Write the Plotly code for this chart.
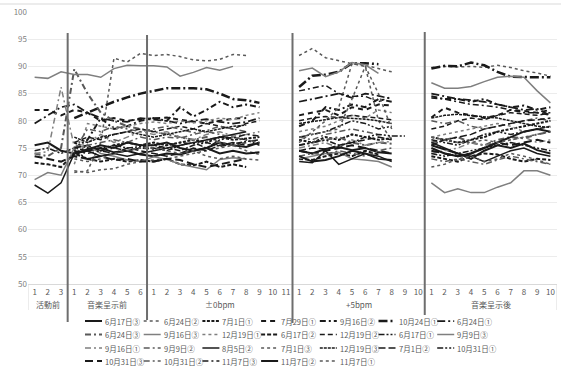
import plotly.graph_objects as go

# ---------------- data ----------------
group_names = ["活動前", "音楽呈示前", "±0bpm", "+5bpm", "音楽呈示後"]
group_sizes = [3, 6, 11, 10, 10]
tick_labels = [str(k) for n in group_sizes for k in range(1, n + 1)]

N = None
series_names = [
    "6月17日③", "6月24日②", "7月1日①", "7月29日①", "9月16日②", "10月24日①", "6月24日①",
    "6月24日③", "9月16日③", "12月19日①", "6月17日②", "12月19日②", "6月17日①", "9月9日③",
    "9月16日①", "9月9日②", "8月5日②", "7月1日③", "12月19日③", "7月1日②", "10月31日①",
    "10月31日③", "10月31日②", "11月7日③", "11月7日②", "11月7日①",
]

s01 = [75.5, 76, 74.5, 74, 74.5, 75, 74.2, 74.5, 73.8, 73.5, 74, 73.8, 74.5, 75, 76, 75.5, 75.2, 76, N, N,
       74.5, 74, 74.8, 75.2, 74.6, 75, 74.2, 74, N, N, 75.5, 74.8, 74, 73, 74.5, 75.5, 75, 75.8, 74.6, 74]
s02 = [N, N, N, 70.5, 70.8, 76, 91.5, 90.8, 92.4, 92, 92.2, 91.8, 91.2, 91, 91.3, 92.2, 92, N, N, N,
       92, 93.3, 91.6, 91, 90.5, 90.2, 89.6, 89, N, N, 89.8, 90, 89.9, 90, 89.8, 90.2, 89.8, 89.2, 88.8, 88.2]
s03 = [N, N, N, 76, 75, 74.5, 75.5, 76, 75.5, 76, 75.5, 76, 76.5, 76, 77, 76.5, 76.8, 77, N, N,
       76.5, 76, 77, 76.5, 77.5, 77, 76.5, 76.8, N, N, 77, 76.5, 76, 76.5, 77, 78, 78.5, 79, 79.5, 80]
s04 = [82, 82, 81, 82, 81.5, 80, 80.5, 80, 80.3, 80.5, 80.6, 80.2, 79.8, 79.5, 80, 80.4, 80.5, N, N, N,
       81, 81.5, 82, 81, 82.5, 82, 83, 82.8, N, N, 80.6, 82.4, 81.5, 81, 80.5, 81, 82, 81.8, 81.5, 82]
s05 = [N, N, N, 75, 76.5, 80.5, 78.5, 79, 80, 80.5, 80, 82.5, 80.8, 82, 83.5, 82.5, 83, 82.5, N, N,
       79, 80, 82.5, 82, 83, 82.5, 84, 83.5, N, N, 84.5, 84, 84, 83.5, 84, 83, 82.5, 82.8, 82, 82.5]
s06 = [N, N, N, 80.5, 81.5, 82.5, 83.5, 84.3, 85, 85.5, 86, 86, 86, 85.8, 85, 84, 83.8, 83.3, N, N,
       86.2, 88.3, 88.5, 89, 90.6, 90.6, 90.4, N, N, N, 89.6, 90.1, 90, 90.7, 90.2, 89, 88.1, 88, 88, 88]
s07 = [79.5, 81, 82.5, 83, 81.5, 80.5, 80, 79.8, 80.5, 80.2, 80, 79.5, 80, 80.3, 79.8, 79.5, 79.8, 80.5, N, N,
       83.5, 84, 84.5, 85, 84.2, 85, 84.6, 84, N, N, 85, 84.5, 84, 83.8, 83.5, 83, 82.5, 82, 82.2, 81]
s08 = [74, 73.5, 75, 89.5, 85, 81.5, 80, 79, 78.5, 78, 77.5, 77, 76.5, 77, 76, 75.5, 76, N, N, N,
       75.5, 76, 76.5, 77, 76, 75.5, 76, 75.8, N, N, 76, 76.5, 77, 76, 75.5, 76.5, 77, 76.8, 77.5, 78]
s09 = [88, 87.8, 89, 88.5, 88.5, 88, 89.6, 90.2, 90.1, 90.1, 89.9, 88.2, 88.9, 89.8, 89.3, 90, N, N, N, N,
       89.2, 89.7, 88.1, 89, 90.7, 90.3, 88.7, N, N, N, 87, 86, 86, 86.3, 87.2, 88, 88.2, 88, 85.5, 83.3]
s10 = [N, N, N, 72, 79.5, 79, 78.5, 79, 79.5, 79.8, 79.5, 80, 79.6, 80, 80.5, 80.2, 81, 81.5, N, N,
       78, 78.5, 79, 80, 81, 80.5, 82, 81.5, N, N, 77, 77.5, 78, 78.5, 79, 79.5, 79, 78, 78.5, 79]
s11 = [72.3, 72, 71.5, 74, 73, 72.5, 73, 72.5, 72.8, 72.5, 73, 72, 71.8, 72.5, 71.5, 72, 71.5, N, N, N,
       73, 72.8, 73.5, 74, 73.5, 74.5, 73.8, N, N, N, 73.5, 73, 72.5, 73.5, 74, 73.8, 73, 72.5, 73, 72.8]
s12 = [N, N, N, 76, 77, 76.5, 77.5, 78, 78.5, 78, 78.5, 79, 78.5, 79.5, 79, 78.5, 79.5, 80, N, N,
       80, 80.5, 80.8, 80.6, 81, 80.8, 80.5, 80.2, N, N, 78.5, 79, 80, 80.5, 80.2, 81, 81.5, 81.2, 81, 81.5]
s13 = [74.5, 75, 74, 75, 74.5, 75, 75.5, 75, 75.2, 75.5, 75, 74.5, 75.5, 76, 75.3, 75.8, 76.2, 76.5, N, N,
       77, 77.5, 78, 79, 80, 79.5, 78.5, 79, N, N, 76.5, 76, 75.5, 76.5, 77.5, 78, 77.5, 78, 78.5, 79]
s14 = [69.2, 70.5, 70, 75, 75.5, 74, 73.5, 72.8, 72.5, 73.4, 72.9, 72, 71.5, 71, 72.9, 73.2, 73, N, N, N,
       73, 73.5, 74, 74.2, 73, 72.8, 72.5, 71.5, N, N, 68.6, 66.8, 67.5, 66.8, 66.8, 67.8, 68.6, 70.8, 70.8, 70]
s15 = [74, 74.3, 86.2, 75.2, 76, 77.5, 76, 77, 78, 77.5, 78, 77, 76.5, 77.5, 78, 77.2, 77.5, 78, N, N,
       75, 75.5, 76, 75, 76.5, 75.5, 76, 76.2, N, N, 74, 74.5, 75, 76, 75.5, 76, 76.5, 77, 76, 76.5]
s16 = [N, N, N, 74.5, 78.5, 78, 79, 78.5, 78, 78.5, 79, 78.5, 77.8, 78.2, 79, 78.5, 78, N, N, N,
       77, 76.5, 77.5, 78, 78.5, 78, 77.5, N, N, N, 80, 79.5, 80, 79, 78.5, 79, 79.5, 80, 80.5, 80]
s17 = [68.2, 66.7, 68.6, 74, 74.5, 73.5, 74, 73.5, 74, 74.5, 75, 75.5, 76, 76.5, 77, 77.5, 78, N, N, N,
       72.5, 72.3, 74.5, 72, 73, 74, 73.5, 72.5, N, N, 76, 75, 74, 73.5, 72.5, 73.5, 74.5, 75, 74, 73.5]
s18 = [N, N, N, 70.8, 70.5, 71, 71.2, 72, 72.5, 72.8, 73, 73.5, 74, 74.5, 75, 75.5, 74.5, 73.8, N, N,
       76, 78, 80, 82.5, 90.5, 90, 80, 76.5, N, N, 71.5, 72, 73, 73.5, 72.5, 73, 74, 73.5, 72.8, 72]
s19 = [N, N, N, 77, 76, 77, 77.5, 78, 77.5, 77, 77.5, 78, 78.5, 78, 78.5, 79, 79.2, N, N, N,
       79.5, 79.8, 80.2, 80.6, 80.5, 80.3, 80, 79.5, N, N, 80.5, 81, 81.2, 81, 80.8, 80.5, 80, 79.5, 79, 78.8]
s20 = [N, N, N, 75, 75.5, 74.5, 74, 75, 74.5, 74, 73.5, 74, 75, 74.5, 75.5, 76, 75.5, 76, N, N,
       74.5, 75, 74.8, 75.5, 76, 76.5, 77, 76.5, N, N, 75.5, 76.5, 77, 77.5, 78.5, 79, 79.5, 80, 80.2, 80.5]
s21 = [N, N, N, 74.5, 73, 73.5, 74, 74.5, 75, 75, 74.5, 75.5, 76, 75, 76.5, 77, 76.5, 75.5, N, N,
       75.5, 76, 76.5, 75.5, 76, 77, 77.5, 77.2, 77.2, N, 74, 73.5, 74, 74.5, 75, 75.5, 76, 75.5, 75, 74.5]
s22 = [73.5, 73, 72.5, 73.5, 73, 73.5, 72.8, 73, 72.5, 72.5, 73, 72.8, 72, 71.5, 72, 72.5, 73, N, N, N,
       74.5, 74, 74.5, 75, 75.5, 75, 74.5, 74, N, N, 74.5, 74, 73.5, 74, 75, 76, 75.5, 76, 76.5, 76]
s23 = [N, N, N, 74, 75.5, 76, 76.5, 76, 77, 76.5, 77, 76.8, 77.5, 78, 77.5, 77, 76.5, 76, N, N,
       73.5, 74, 73.8, 74.5, 74, 73.5, 74.5, 75, N, N, 73, 72.5, 73, 72.5, 72, 72.8, 73.5, 73, 72.5, 72]
s24 = [N, N, N, 74.5, 74, 74.5, 75, 74.5, 75, 74.8, 75.5, 76, 75.8, 76.5, 77, 76.8, 77.5, 77.2, N, N,
       85.5, 86, 86.5, 85, 84.5, 84.5, 83.5, 84.5, N, N, 84.2, 84, 83.5, 83, 82.8, 82.5, 82, 81.5, 81.5, 81]
s25 = [N, N, N, 74, 74.8, 75.5, 75, 76, 75.5, 75.5, 76, 75, 74.5, 75, 74, 74.5, 74, 74.2, N, N,
       73.5, 72.5, 72.8, 73.5, 74.5, 74, 73, 72.8, N, N, 75, 74, 73.5, 74, 75, 76, 77, 78, 78.5, 78]
s26 = [N, N, N, 73, 72.5, 73, 74, 74.5, 75, 75, 74.5, 74, 74.5, 73.5, 73, 73.5, 73, 72.8, N, N,
       77, 77.5, 78, 78.5, 84, 90, 85, 78.5, N, N, 77, 76.5, 76, 76, 76.5, 76, 76.5, 77, 77.5, 78]

series_values = [s01, s02, s03, s04, s05, s06, s07, s08, s09, s10, s11, s12, s13,
                 s14, s15, s16, s17, s18, s19, s20, s21, s22, s23, s24, s25, s26]

# ---------------- styles ----------------
BLK, DG, G = "#1a1a1a", "#595959", "#7f7f7f"
styles = [
    (BLK, "solid", 2.0), (DG, "dot", 1.5), (BLK, "3px,1.5px", 2.0), (BLK, "5px,4px", 2.0),
    (BLK, "6px,3px,2px,3px", 2.0), (BLK, "9px,3px,2px,3px", 2.5), (BLK, "8px,3px,2px,3px", 1.75),
    (DG, "6px,3px,2px,3px", 2.0), (G, "solid", 1.5), (G, "dot", 1.5), (BLK, "4px,2px", 2.0),
    (BLK, "5px,3px", 1.5), (BLK, "6px,2px,2px,2px,2px,2px", 1.5), (G, "solid", 1.5),
    (G, "6px,3px,2px,3px", 1.5), (DG, "6px,3px,2px,3px", 1.5), (BLK, "solid", 1.5),
    (DG, "dot", 1.5), (BLK, "3px,1px", 1.5), (BLK, "7px,3px", 1.5),
    (BLK, "6px,2px,2px,2px,2px,2px", 1.5), (BLK, "8px,4px", 2.0), (DG, "6px,3px,2px,3px", 1.5),
    (BLK, "6px,3px,2px,3px", 1.5), (BLK, "solid", 2.0), (DG, "dot", 1.5),
]

x_idx = list(range(len(tick_labels)))

fig = go.Figure()
for name, vals, (col, dash, w) in zip(series_names, series_values, styles):
    fig.add_trace(go.Scatter(
        x=x_idx, y=vals, mode="lines", name=name,
        line=dict(color=col, dash=dash, width=w),
        connectgaps=False, hoverinfo="skip", showlegend=False,
    ))

FONT = "Noto Sans CJK JP, Noto Sans, sans-serif"
L, R, T, B = 28, 4, 12, 85
W, H = 561, 369
plot_w = W - L - R
plot_h = H - T - B

def py2paper(py):
    return (H - B - py) / plot_h

def px2paper(px):
    return (px - L) / plot_w

shapes = []
annotations = []

# group separators
bounds = []
acc = 0
for n in group_sizes[:-1]:
    acc += n
    bounds.append(acc - 0.5)
sep_tops = [33, 35, 33, 32]
sep_bottoms = [322, 320, 323, 315]
for b, t, bt in zip(bounds, sep_tops, sep_bottoms):
    shapes.append(dict(type="line", xref="x", yref="paper", x0=b, x1=b,
                       y0=py2paper(bt), y1=py2paper(t),
                       line=dict(color="#6e6e6e", width=2), layer="above"))
# multi-level axis label box edges
for xv in [-0.5, len(tick_labels) - 0.5]:
    shapes.append(dict(type="line", xref="x", yref="paper", x0=xv, x1=xv,
                       y0=py2paper(310), y1=0, line=dict(color="#d9d9d9", width=1), layer="below"))
# chart area top edge
shapes.append(dict(type="line", xref="paper", yref="paper", x0=px2paper(0), x1=px2paper(W),
                   y0=py2paper(4), y1=py2paper(4), line=dict(color="#d9d9d9", width=1)))

# group labels
start = 0
for gname, n in zip(group_names, group_sizes):
    center = start + (n - 1) / 2
    annotations.append(dict(x=center, y=py2paper(304), xref="x", yref="paper", text=gname,
                            showarrow=False, font=dict(size=8, color="#595959", family=FONT),
                            xanchor="center", yanchor="middle"))
    start += n

# legend (7 columns x 4 rows) drawn as line samples + labels
col_px = [85 + 58.7 * k for k in range(7)]
row_px = [321, 334.5, 348, 361]
for k, (name, (col, dash, w)) in enumerate(zip(series_names, styles)):
    r, c = divmod(k, 7)
    x0 = col_px[c]
    yy = py2paper(row_px[r])
    shapes.append(dict(type="line", xref="paper", yref="paper",
                       x0=px2paper(x0), x1=px2paper(x0 + 17), y0=yy, y1=yy,
                       line=dict(color=col, dash=dash, width=w)))
    annotations.append(dict(x=px2paper(x0 + 18), y=yy, xref="paper", yref="paper", text=name,
                            showarrow=False, xanchor="left", yanchor="middle",
                            font=dict(size=7.5, color="#595959", family=FONT)))

fig.update_layout(
    width=W, height=H, margin=dict(l=L, r=R, t=T, b=B, autoexpand=False),
    paper_bgcolor="white", plot_bgcolor="white",
    font=dict(family=FONT, size=8, color="#595959"),
    shapes=shapes, annotations=annotations, showlegend=False,
)
fig.update_xaxes(range=[-0.5, len(tick_labels) - 0.5], tickmode="array", tickvals=x_idx,
                 ticktext=tick_labels, showgrid=False, zeroline=False, showline=True,
                 linecolor="#d9d9d9", linewidth=1, ticks="", tickfont=dict(size=8, color="#595959"),
                 automargin=False)
fig.update_yaxes(range=[50, 100], dtick=5, showgrid=True, gridcolor="#ececec", gridwidth=1,
                 zeroline=False, showline=False, ticks="", tickfont=dict(size=8, color="#7f7f7f"),
                 automargin=False)

fig.write_html("out.html", config={"displayModeBar": False},
               post_script="document.body.style.margin='0';document.body.style.padding='0';")
